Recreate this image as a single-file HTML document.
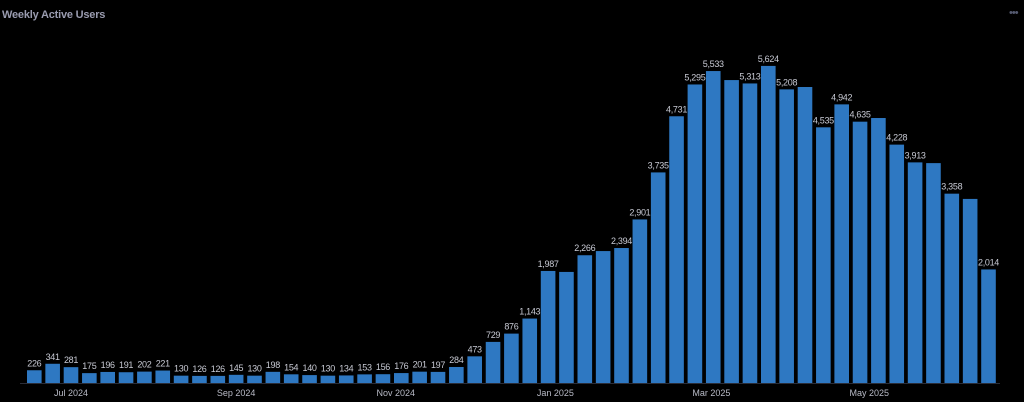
<!DOCTYPE html>
<html><head><meta charset="utf-8">
<style>
html,body{margin:0;padding:0;background:#000;}
#wrap{position:relative;width:1024px;height:402px;background:#000;overflow:hidden;font-family:"Liberation Sans",sans-serif;}
#title{position:absolute;left:2px;top:9px;font-size:11px;font-weight:bold;color:#9a9cb0;letter-spacing:-0.2px;}
#menu{position:absolute;left:1009px;top:7px;font-size:11px;color:#555a70;letter-spacing:-1px;}
</style></head>
<body>
<div id="wrap">
<div id="title">Weekly Active Users</div>
<div id="menu">•••</div>
<svg id="chart" width="1024" height="402" style="position:absolute;left:0;top:0"></svg>
</div>
<script>
const values = [226,341,281,175,196,191,202,221,130,126,126,145,130,198,154,140,130,134,153,156,176,201,197,284,473,729,876,1143,1987,1970,2266,2340,2394,2901,3735,4731,5295,5533,5373,5313,5624,5208,5250,4535,4942,4635,4700,4228,3913,3900,3358,3265,2014];
const showLabel = [1,1,1,1,1,1,1,1,1,1,1,1,1,1,1,1,1,1,1,1,1,1,1,1,1,1,1,1,1,0,1,0,1,1,1,1,1,1,0,1,1,1,0,1,1,1,0,1,1,0,1,0,1];
const monthLabels = ["Jul 2024","Sep 2024","Nov 2024","Jan 2025","Mar 2025","May 2025"];
const monthIndex = [2,11,19.7,28.4,36.9,45.5];

const NS="http://www.w3.org/2000/svg";
const svg=document.getElementById('chart');
const x0=27, pitch=18.35, bw=14.6, baseY=383, kY=0.05638;
const xPos=i=>x0+i*pitch;
const yPos=v=>baseY-v*kY;
function mk(t,a){const e=document.createElementNS(NS,t);for(const k in a)e.setAttribute(k,a[k]);svg.appendChild(e);return e;}
const axis=mk('line',{x1:20,x2:1000,y1:baseY+0.5,y2:baseY+0.5,stroke:'#2a2d38','stroke-width':1});


values.forEach((v,i)=>{
  const r=mk('rect',{x:xPos(i),y:yPos(v),width:bw,height:baseY-yPos(v),fill:'#2e78c2'});
  
  
  if(showLabel[i]){
    const t=mk('text',{x:xPos(i)+bw/2,y:yPos(v)-4,'text-anchor':'middle','font-size':'9','fill':'#c8cad4','font-family':'Liberation Sans, sans-serif','letter-spacing':'-0.3'});
    t.textContent=v.toLocaleString('en-US');
    
    
  }
});
monthLabels.forEach((m,j)=>{
  const t=mk('text',{x:xPos(monthIndex[j])+bw/2,y:396,'text-anchor':'middle','font-size':'9','fill':'#b8bac6','font-family':'Liberation Sans, sans-serif'});
  t.textContent=m;
  
  
});
</script>
</body></html>
